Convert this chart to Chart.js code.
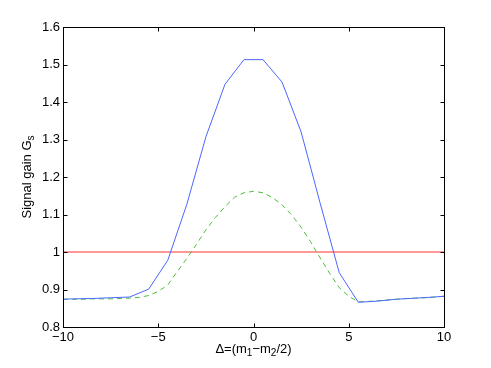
<!DOCTYPE html>
<html>
<head>
<meta charset="utf-8">
<script src="https://cdn.jsdelivr.net/npm/chart.js"></script>
<style>
  html, body { margin: 0; padding: 0; background: #fff; }
  #wrap { width: 491px; height: 368px; }
</style>
</head>
<body>
<div id="wrap"><canvas id="chart" width="491" height="368"></canvas></div>
<script>
// Data
const blueX = [-10, -9.5, -8.5, -7.5, -6.5, -5.5, -4.5, -3.5, -2.5, -1.5, -0.5, 0.5, 1.5, 2.5, 3.5, 4.5, 5.5, 6.5, 7.5, 8.5, 9.5, 10];
const blueY = [0.874, 0.875, 0.876, 0.878, 0.880, 0.901, 0.978, 1.127, 1.307, 1.447, 1.513, 1.513, 1.453, 1.320, 1.130, 0.945, 0.866, 0.869, 0.874, 0.877, 0.880, 0.882];

const greenX = [-10, -9.5, -9, -8.5, -8, -7.5, -7, -6.5, -6, -5.5, -5, -4.5, -4, -3.5, -3, -2.5, -2, -1.5, -1, -0.5, 0,
                0.5, 1, 1.5, 2, 2.5, 3, 3.5, 4, 4.5, 5, 5.5, 6, 6.5, 7, 7.5, 8, 8.5, 9, 9.5, 10];
const greenY = [0.874, 0.874, 0.874, 0.875, 0.875, 0.875, 0.876, 0.877, 0.879, 0.884, 0.895, 0.912, 0.948, 0.983, 1.020, 1.059, 1.092, 1.121, 1.146, 1.158, 1.162,
                1.158, 1.145, 1.126, 1.099, 1.066, 1.027, 0.984, 0.943, 0.905, 0.882, 0.867, 0.868, 0.870, 0.872, 0.874, 0.876, 0.877, 0.878, 0.880, 0.882];

const refX = [-10, 10];
const refY = [1, 1];

const xTicks = [-10, -5, 0, 5, 10];
const yTicks = [0.8, 0.9, 1.0, 1.1, 1.2, 1.3, 1.4, 1.5, 1.6];

const FONT = '"Liberation Sans", Arial, Helvetica, sans-serif';

const toPoints = (xs, ys) => xs.map((x, i) => ({ x: x, y: ys[i] }));

// draws text made of normal and subscript parts, centred on (cx, cy)
function drawSubText(ctx, parts, cx, cy) {
    const big = '13px ' + FONT, small = '10px ' + FONT;
    let total = 0;
    parts.forEach(p => {
        ctx.font = p[1] ? small : big;
        total += ctx.measureText(p[0]).width;
    });
    let x = cx - total / 2;
    ctx.textAlign = 'left';
    ctx.textBaseline = 'middle';
    parts.forEach(p => {
        ctx.font = p[1] ? small : big;
        ctx.fillText(p[0], x, p[1] ? cy + 4 : cy);
        x += ctx.measureText(p[0]).width;
    });
}

// box, inward ticks and axis titles (MATLAB look)
const frame = {
    id: 'frame',
    afterDraw(chart) {
        const ctx = chart.ctx;
        const a = chart.chartArea;
        const xs = chart.scales.x, ys = chart.scales.y;
        const L = Math.round(a.left) + 0.5, R = Math.round(a.right) + 0.5;
        const T = Math.round(a.top) + 0.5, B = Math.round(a.bottom) + 0.5;
        ctx.save();
        ctx.strokeStyle = '#000';
        ctx.lineWidth = 1;
        ctx.strokeRect(L, T, R - L, B - T);
        ctx.beginPath();
        xTicks.forEach(v => {
            const px = Math.round(xs.getPixelForValue(v)) + 0.5;
            ctx.moveTo(px, B); ctx.lineTo(px, B - 4);
            ctx.moveTo(px, T); ctx.lineTo(px, T + 4);
        });
        yTicks.forEach(v => {
            const py = Math.round(ys.getPixelForValue(v)) + 0.5;
            ctx.moveTo(L, py); ctx.lineTo(L + 4, py);
            ctx.moveTo(R, py); ctx.lineTo(R - 4, py);
        });
        ctx.stroke();

        ctx.fillStyle = '#000';
        drawSubText(ctx, [['\u0394=(m', 0], ['1', 1], ['\u2212m', 0], ['2', 1], ['/2)', 0]], (a.left + a.right) / 2, 349);
        ctx.translate(27, (a.top + a.bottom) / 2);
        ctx.rotate(-Math.PI / 2);
        drawSubText(ctx, [['Signal gain G', 0], ['s', 1]], 0, 0);
        ctx.restore();
    }
};

new Chart(document.getElementById('chart'), {
    type: 'line',
    data: {
        datasets: [
            { data: toPoints(blueX, blueY), borderColor: '#4a66ff', borderWidth: 1, pointRadius: 0, tension: 0 },
            { data: toPoints(greenX, greenY), borderColor: '#4cbf3a', borderWidth: 1, borderDash: [5, 4], pointRadius: 0, tension: 0 },
            { data: toPoints(refX, refY), borderColor: '#ff3030', borderWidth: 1, pointRadius: 0, tension: 0 }
        ]
    },
    options: {
        responsive: false,
        animation: false,
        events: [],
        layout: { padding: { left: 0, top: 27, right: 47, bottom: 0 } },
        plugins: { legend: { display: false }, tooltip: { enabled: false } },
        scales: {
            x: {
                type: 'linear', min: -10, max: 10,
                afterBuildTicks: s => { s.ticks = xTicks.map(v => ({ value: v })); },
                afterFit: s => { s.height = 41; },
                grid: { display: false, drawTicks: false },
                border: { display: false },
                ticks: {
                    color: '#000', padding: 3, maxRotation: 0,
                    font: { family: FONT, size: 13 },
                    callback: v => (v < 0 ? '\u2212' + Math.abs(v) : String(v))
                }
            },
            y: {
                type: 'linear', min: 0.8, max: 1.6,
                afterBuildTicks: s => { s.ticks = yTicks.map(v => ({ value: v })); },
                afterFit: s => { s.width = 63; },
                grid: { display: false, drawTicks: false },
                border: { display: false },
                ticks: {
                    color: '#000', padding: 3,
                    font: { family: FONT, size: 13 },
                    callback: v => String(+v.toFixed(1))
                }
            }
        }
    },
    plugins: [frame]
});
</script>
</body>
</html>
